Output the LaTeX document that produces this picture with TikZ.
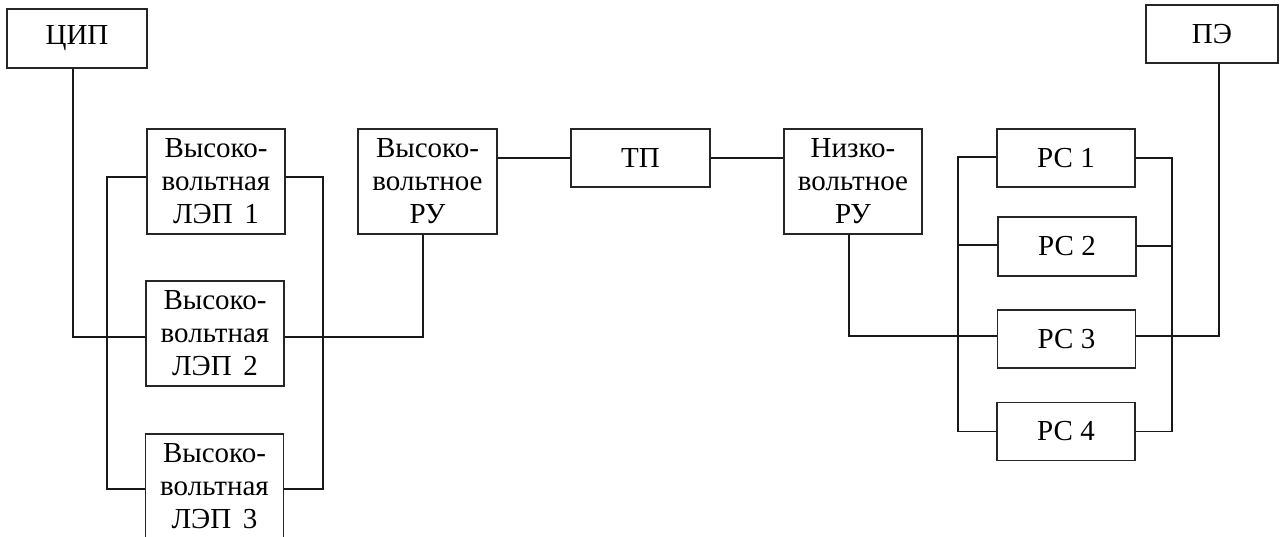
\documentclass[tikz,border=0pt]{standalone}
\usepackage{fontspec}
\setmainfont{Liberation Serif}
\begin{document}
\begin{tikzpicture}[x=1pt,y=-1pt,
  box/.style={draw=black!85,line width=1.2pt,rectangle,inner sep=0pt,align=center,
    font=\fontsize{29}{33}\selectfont},
  tall/.style={box,minimum width=138pt,minimum height=105pt},
  short/.style={box,minimum width=138pt,minimum height=58pt},
  wire/.style={draw=black!90,line width=1.8pt}]
\clip (0,0) rectangle (1283,537);
\fill[white] (0,0) rectangle (1283,537);
% nodes
\node[short,minimum width=140pt,minimum height=59pt] (cip) at (77,38.5) {ЦИП};
\node[tall] (l1) at (216,181.5) {Высоко-\\вольтная\\ЛЭП\hspace{0.4em}1};
\node[tall] (l2) at (215,333.5) {Высоко-\\вольтная\\ЛЭП\hspace{0.4em}2};
\node[tall] (l3) at (214.5,486.5) {Высоко-\\вольтная\\ЛЭП\hspace{0.4em}3};
\node[tall,minimum width=139pt] (vru) at (427.5,181.5) {Высоко-\\вольтное\\РУ};
\node[short,minimum width=139pt] (tp) at (640.5,158) {ТП};
\node[tall] (nru) at (853,181.5) {Низко-\\вольтное\\РУ};
\node[short,minimum width=132pt] (pe) at (1212,34) {ПЭ};
\node[short] (pc1) at (1066,158) {РС 1};
\node[short,minimum height=59pt] (pc2) at (1067,246.5) {РС 2};
\node[short] (pc3) at (1066.5,339) {РС 3};
\node[short] (pc4) at (1066,431.5) {РС 4};
% bus coordinates
\coordinate (c1) at (73,337);
\coordinate (lb1) at (107,177);
\coordinate (lb3) at (107,489);
\coordinate (rb1) at (323,177);
\coordinate (rb3) at (323,489);
\coordinate (v1) at (423,337);
\coordinate (n1) at (849,336);
\coordinate (pl1) at (958,157);
\coordinate (pl2) at (958,245);
\coordinate (pl4) at (958,431.5);
\coordinate (pr1) at (1172,158);
\coordinate (pr2) at (1172,246);
\coordinate (pr3) at (1172,336);
\coordinate (pr4) at (1172,431.5);
\coordinate (pe1) at (1219,336);
% connectors
\draw[wire] (cip.south -| c1) -- (c1) -- (l2.west |- c1);
\draw[wire] (l1.west |- lb1) -- (lb1) -- (lb3) -- (l3.west |- lb3);
\draw[wire] (l1.east |- rb1) -- (rb1) -- (rb3) -- (l3.east |- rb3);
\draw[wire] (l2.east |- v1) -- (v1) -- (vru.south -| v1);
\draw[wire] (vru.east |- tp.west) -- (tp.west);
\draw[wire,line width=1.3pt] (tp.east) -- (nru.west |- tp.east);
\draw[wire] (nru.south -| n1) -- (n1) -- (pc3.west |- n1);
\draw[wire] (pc1.west |- pl1) -- (pl1) -- (pl4) -- (pc4.west |- pl4);
\draw[wire] (pl2) -- (pc2.west |- pl2);
\draw[wire] (pc1.east |- pr1) -- (pr1) -- (pr4) -- (pc4.east |- pr4);
\draw[wire] (pc2.east |- pr2) -- (pr2);
\draw[wire] (pc3.east |- pr3) -- (pe1) -- (pe.south -| pe1);
\end{tikzpicture}
\end{document}
